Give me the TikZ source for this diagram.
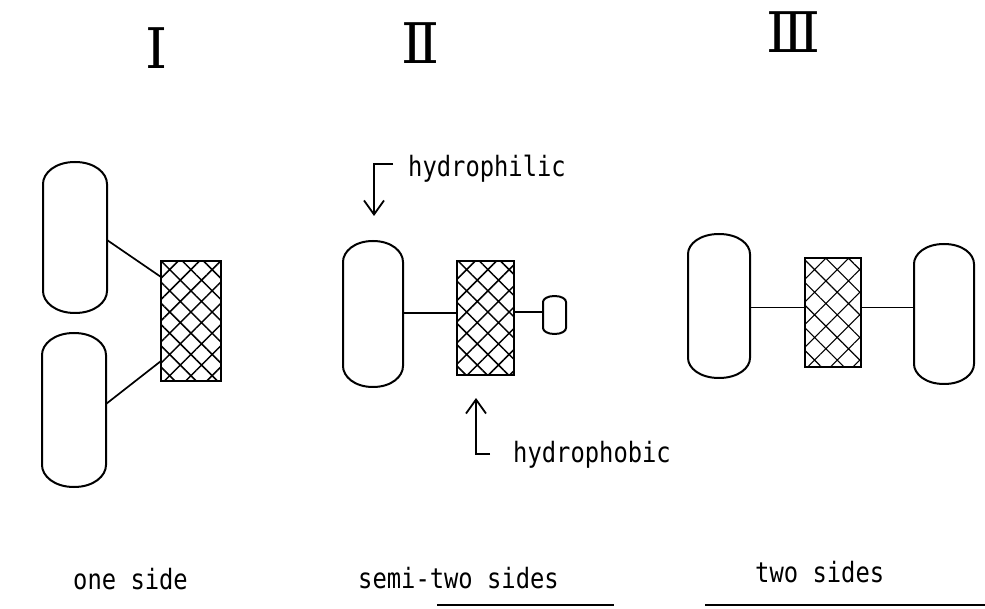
\documentclass[tikz,border=0pt]{standalone}
\usepackage{fontspec}
\newfontfamily\numfont{DejaVu Serif}
\newfontfamily\labfont[FakeStretch=0.85]{DejaVu Sans Mono}
\usetikzlibrary{arrows.meta,patterns.meta}

\tikzset{
 capline/.style={line width=2pt, line join=round},
 conn/.style={line width=1.7pt},
 capsule/.style 2 args={rectangle, minimum width=#1, minimum height=#2, inner sep=0pt, outer sep=0pt},
 hatchbox/.style 2 args={rectangle, draw, line width=2pt, minimum width=#1, minimum height=#2, inner sep=0pt, outer sep=0pt,
   pattern={Hatch[angle=45,distance=15pt,line width=1.5pt]}},
 lighthatch/.style={pattern={Hatch[angle=45,distance=16pt,line width=1.1pt]}},
 lab/.style={font=\labfont\fontsize{28}{28}\selectfont, inner sep=0pt, anchor=base west},
 numeral/.style={font=\numfont\fontsize{56}{56}\selectfont, inner sep=0pt},
 pointer/.style={line width=1.8pt, -{Straight Barb[length=14pt,width=20pt,line width=1.8pt]}},
 rule/.style={line width=2.5pt},
}

% #1 node, #2 arc height, #3 half width
\newcommand\capsuleoutline[3]{%
 \draw[capline] ([yshift=-#2]#1.north east) -- ([yshift=#2]#1.south east)
   .. controls +(0,-0.5*#2) and +(0.62*#3,0) .. (#1.south)
   .. controls +(-0.62*#3,0) and +(0,-0.5*#2) .. ([yshift=#2]#1.south west)
   -- ([yshift=-#2]#1.north west)
   .. controls +(0,0.5*#2) and +(-0.62*#3,0) .. (#1.north)
   .. controls +(0.62*#3,0) and +(0,0.5*#2) .. ([yshift=-#2]#1.north east) -- cycle;}

\begin{document}
\begin{tikzpicture}[x=1pt,y=1pt]
\useasboundingbox (0,0) rectangle (985,-609);

% numerals
\node[numeral] (n1) at (156.5,-48.5) {Ⅰ};
\node[numeral] (n2) at (421,-43) {Ⅱ};
\node[numeral] (n3) at (793.5,-32) {Ⅲ};

% panel I
\node[capsule={64}{151}] (Itop) at (75,-237.5) {};
\capsuleoutline{Itop}{22}{32}
\node[capsule={64}{154}] (Ibot) at (74,-410) {};
\capsuleoutline{Ibot}{22}{32}
\node[hatchbox={60}{120}] (Ibox) at (191,-321) {};
\draw[conn] ([yshift=-2.5]Itop.east) -- ([yshift=44]Ibox.west);
\draw[conn] ([yshift=6]Ibot.east) -- ([yshift=-40]Ibox.west);

% panel II
\node[capsule={60}{146}] (IIcap) at (373,-314) {};
\capsuleoutline{IIcap}{21}{30}
\node[hatchbox={57}{114}] (IIbox) at (485.5,-318) {};
\node[capsule={23}{38}] (IIsmall) at (554.5,-315) {};
\capsuleoutline{IIsmall}{6}{11.5}
\path ([yshift=1]IIcap.east) coordinate (s1);
\draw[conn] (s1) -- (s1 -| IIbox.west);
\path ([yshift=3]IIsmall.west) coordinate (s2);
\draw[conn] (s2 -| IIbox.east) -- (s2);

% panel III
\node[capsule={62}{144}] (IIIleft) at (719,-306) {};
\capsuleoutline{IIIleft}{20}{31}
\node[hatchbox={56}{109}, lighthatch] (IIIbox) at (833,-312.5) {};
\node[capsule={60}{140}] (IIIright) at (944,-314) {};
\capsuleoutline{IIIright}{20}{30}
\draw[conn] ([yshift=-1.5]IIIleft.east) -- ([yshift=-1.5]IIIleft.east -| IIIbox.west);
\draw[conn] ([yshift=-1.5]IIIleft.east -| IIIbox.east) -- ([yshift=-1.5]IIIleft.east -| IIIright.west);

% labels and pointers
\node[lab] (philic) at (408,-177) {hydrophilic};
\coordinate (philictip) at (374,-216);
\draw[pointer] ([xshift=-15,yshift=13]philic.base west) -| (philictip);
\node[lab] (phobic) at (513,-462) {hydrophobic};
\coordinate (phobictip) at (476,-398);
\draw[pointer] ([xshift=-23,yshift=8]phobic.base west) -| (phobictip);

\node[lab] (one) at (73,-589) {one side};
\node[lab] (semi) at (358,-588) {semi-two sides};
\node[lab] (two) at (755,-582) {two sides};

% rules at the bottom
\coordinate (r1a) at (437,-605);
\coordinate (r1b) at (614,-605);
\coordinate (r2a) at (705,-605);
\coordinate (r2b) at (985,-605);
\draw[rule] (r1a) -- (r1b);
\draw[rule] (r2a) -- (r2b);
\end{tikzpicture}
\end{document}
